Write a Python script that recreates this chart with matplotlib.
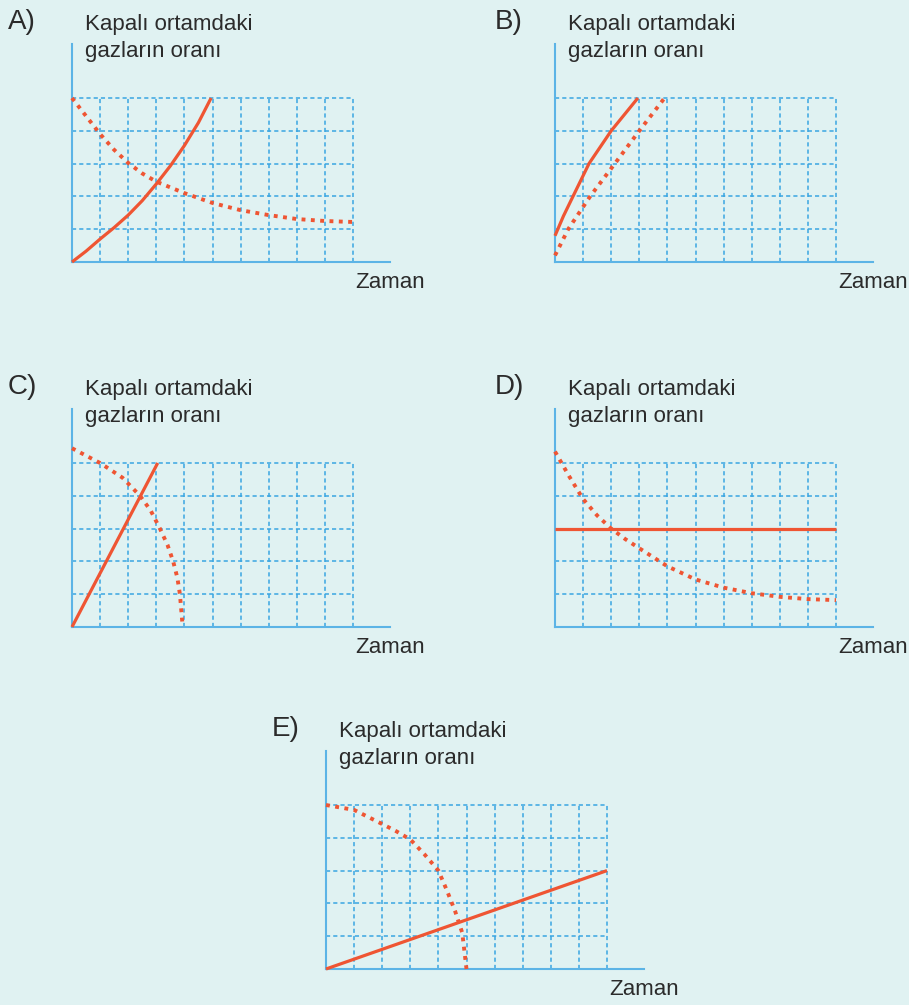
import matplotlib
matplotlib.use("Agg")
import matplotlib.pyplot as plt

# Veriler (ızgara birimi: x 0..10, y 0..5)
a_solid_x = [0, 0.5, 1, 1.5, 2, 2.5, 3, 3.5, 4, 4.5, 4.95]
a_solid_y = [0, 0.33, 0.7, 1.05, 1.43, 1.87, 2.38, 2.93, 3.55, 4.25, 5.0]
a_dot_x = [0, 0.5, 1, 1.5, 2, 2.5, 3, 4, 5, 6, 7, 8, 9, 10]
a_dot_y = [5.0, 4.45, 3.9, 3.42, 3.02, 2.7, 2.45, 2.1, 1.8, 1.58, 1.43, 1.31, 1.25, 1.22]

b_solid_x = [0, 0.3, 0.64, 1.21, 2.0, 2.95]
b_solid_y = [0.8, 1.4, 2.0, 3.0, 4.0, 5.0]
b_dot_x = [0, 0.47, 1.25, 2.13, 3.0, 3.9]
b_dot_y = [0.2, 1.0, 2.0, 3.0, 4.0, 5.0]

c_solid_x = [0, 3.05]
c_solid_y = [0, 5.0]
c_dot_x = [0, 1.0, 1.8, 2.42, 2.8, 3.13, 3.4, 3.6, 3.75, 3.84, 3.94]
c_dot_y = [5.45, 5.0, 4.55, 4.0, 3.55, 3.0, 2.5, 2.0, 1.5, 1.0, 0]

d_solid_x = [0, 10]
d_solid_y = [3.0, 3.0]
d_dot_x = [0, 0.5, 1, 1.5, 2, 2.5, 3, 4, 5, 6, 7, 8, 9, 10]
d_dot_y = [5.35, 4.6, 3.9, 3.4, 3.0, 2.68, 2.4, 1.85, 1.45, 1.2, 1.03, 0.92, 0.85, 0.82]

e_solid_x = [0, 10]
e_solid_y = [0, 3.0]
e_dot_x = [0, 1, 2, 2.5, 3, 3.5, 4, 4.3, 4.6, 4.85, 5]
e_dot_y = [5.0, 4.85, 4.42, 4.2, 3.95, 3.5, 3.0, 2.4, 1.75, 1.1, 0]

labels = ["A)", "B)", "C)", "D)", "E)"]
ylabel_1 = "Kapalı ortamdaki"
ylabel_2 = "gazların oranı"
xlabel = "Zaman"

W, H = 909, 1005
BG = "#e0f2f2"
RED = "#ef5533"
GRID = "#3aa6e2"
AXIS = "#5cb4e6"
TXT = "#2b2b2b"
plt.rcParams["font.family"] = ["Liberation Sans", "DejaVu Sans"]

fig = plt.figure(figsize=(W / 100, H / 100), dpi=100, facecolor=BG)

def fx(x):
    return x / W

def fy(y):
    return 1 - y / H

# (orijin x, orijin y, harf x ofseti, veriler)
panels = [
    (72, 262, 64, a_solid_x, a_solid_y, a_dot_x, a_dot_y),
    (555, 262, 60, b_solid_x, b_solid_y, b_dot_x, b_dot_y),
    (72, 627, 64, c_solid_x, c_solid_y, c_dot_x, c_dot_y),
    (555, 627, 60, d_solid_x, d_solid_y, d_dot_x, d_dot_y),
    (326, 969, 54, e_solid_x, e_solid_y, e_dot_x, e_dot_y),
]

ux, uy = 28.1, 32.8   # piksel / ızgara birimi
aw, ah = 318, 218     # eksen uzunlukları (piksel)

for lab, (ox, oy, lx, sx, sy, dx, dy) in zip(labels, panels):
    ax = fig.add_axes([fx(ox), fy(oy), aw / W, ah / H])
    ax.set_facecolor("none")
    ax.set_xlim(0, aw / ux)
    ax.set_ylim(0, ah / uy)
    for s in ["top", "right"]:
        ax.spines[s].set_visible(False)
    for s in ["left", "bottom"]:
        ax.spines[s].set_color(AXIS)
        ax.spines[s].set_linewidth(1.5)
    ax.set_xticks([])
    ax.set_yticks([])

    # kesikli ızgara
    ax.vlines(range(1, 11), 0, 5, colors=GRID, linewidth=1.3,
              linestyles=(0, (2.3, 1.7)), alpha=0.85)
    ax.hlines(range(1, 6), 0, 10, colors=GRID, linewidth=1.3,
              linestyles=(0, (2.3, 1.7)), alpha=0.85)

    # eğriler
    ax.plot(sx, sy, color=RED, linewidth=2.3, solid_capstyle="butt",
            solid_joinstyle="round", clip_on=False, zorder=3)
    ax.plot(dx, dy, color=RED, linewidth=2.8, linestyle=(0, (1, 1.4)),
            dash_capstyle="butt", clip_on=False, zorder=3)

    fig.text(fx(ox - lx), fy(oy - 233), lab, fontsize=20, color=TXT,
             va="baseline", ha="left")
    fig.text(fx(ox + 13), fy(oy - 232), ylabel_1, fontsize=16, color=TXT,
             va="baseline", ha="left")
    fig.text(fx(ox + 13), fy(oy - 205), ylabel_2, fontsize=16, color=TXT,
             va="baseline", ha="left")
    fig.text(fx(ox + 283), fy(oy + 26), xlabel, fontsize=16, color=TXT,
             va="baseline", ha="left")

fig.savefig("out.png", dpi=100, facecolor=BG)
